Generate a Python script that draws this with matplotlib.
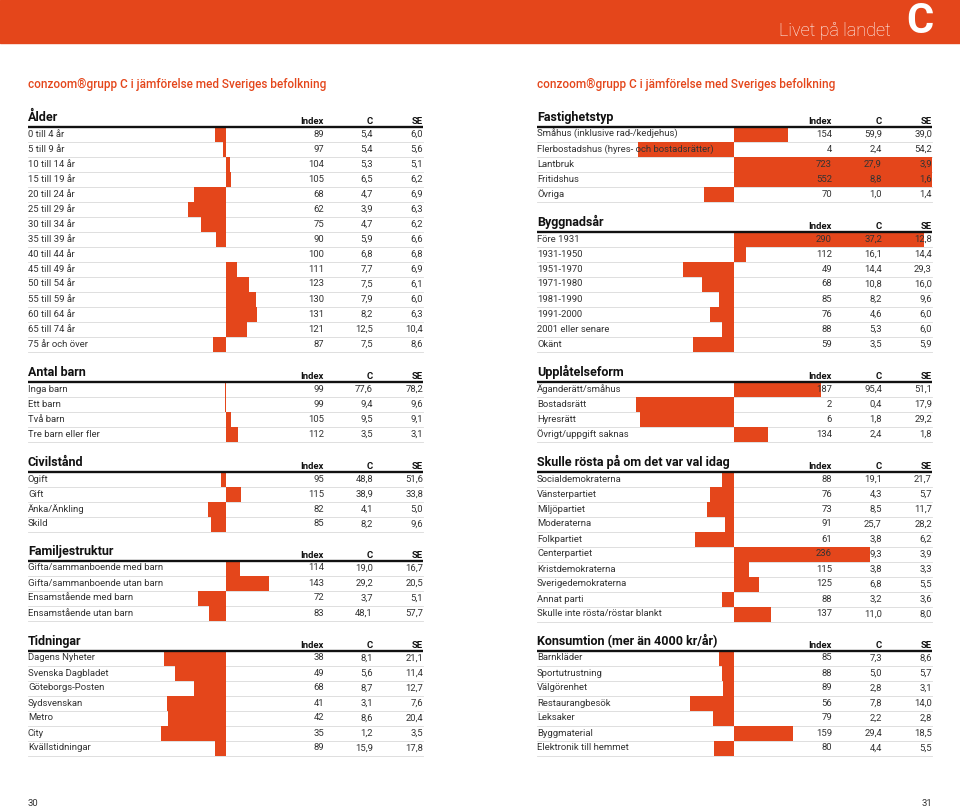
import numpy as np
import matplotlib
matplotlib.use("Agg")
import matplotlib.pyplot as plt

ORANGE = "#E4461B"
TEXT = "#333333"
GRID = "#d9d9d9"

# ---- data -------------------------------------------------------------
alder_labels = ["0 till 4 år", "5 till 9 år", "10 till 14 år", "15 till 19 år",
                "20 till 24 år", "25 till 29 år", "30 till 34 år", "35 till 39 år",
                "40 till 44 år", "45 till 49 år", "50 till 54 år", "55 till 59 år",
                "60 till 64 år", "65 till 74 år", "75 år och över"]
alder_index = [89, 97, 104, 105, 68, 62, 75, 90, 100, 111, 123, 130, 131, 121, 87]
alder_c = [5.4, 5.4, 5.3, 6.5, 4.7, 3.9, 4.7, 5.9, 6.8, 7.7, 7.5, 7.9, 8.2, 12.5, 7.5]
alder_se = [6.0, 5.6, 5.1, 6.2, 6.9, 6.3, 6.2, 6.6, 6.8, 6.9, 6.1, 6.0, 6.3, 10.4, 8.6]

barn_labels = ["Inga barn", "Ett barn", "Två barn", "Tre barn eller fler"]
barn_index = [99, 99, 105, 112]
barn_c = [77.6, 9.4, 9.5, 3.5]
barn_se = [78.2, 9.6, 9.1, 3.1]

civil_labels = ["Ogift", "Gift", "Änka/Änkling", "Skild"]
civil_index = [95, 115, 82, 85]
civil_c = [48.8, 38.9, 4.1, 8.2]
civil_se = [51.6, 33.8, 5.0, 9.6]

familj_labels = ["Gifta/sammanboende med barn", "Gifta/sammanboende utan barn",
                 "Ensamstående med barn", "Ensamstående utan barn"]
familj_index = [114, 143, 72, 83]
familj_c = [19.0, 29.2, 3.7, 48.1]
familj_se = [16.7, 20.5, 5.1, 57.7]

tidn_labels = ["Dagens Nyheter", "Svenska Dagbladet", "Göteborgs-Posten",
               "Sydsvenskan", "Metro", "City", "Kvällstidningar"]
tidn_index = [38, 49, 68, 41, 42, 35, 89]
tidn_c = [8.1, 5.6, 8.7, 3.1, 8.6, 1.2, 15.9]
tidn_se = [21.1, 11.4, 12.7, 7.6, 20.4, 3.5, 17.8]

fastighet_labels = ["Småhus (inklusive rad-/kedjehus)",
                    "Flerbostadshus (hyres- och bostadsrätter)",
                    "Lantbruk", "Fritidshus", "Övriga"]
fastighet_index = [154, 4, 723, 552, 70]
fastighet_c = [59.9, 2.4, 27.9, 8.8, 1.0]
fastighet_se = [39.0, 54.2, 3.9, 1.6, 1.4]

bygg_labels = ["Före 1931", "1931-1950", "1951-1970", "1971-1980", "1981-1990",
               "1991-2000", "2001 eller senare", "Okänt"]
bygg_index = [290, 112, 49, 68, 85, 76, 88, 59]
bygg_c = [37.2, 16.1, 14.4, 10.8, 8.2, 4.6, 5.3, 3.5]
bygg_se = [12.8, 14.4, 29.3, 16.0, 9.6, 6.0, 6.0, 5.9]

upplat_labels = ["Äganderätt/småhus", "Bostadsrätt", "Hyresrätt",
                 "Övrigt/uppgift saknas"]
upplat_index = [187, 2, 6, 134]
upplat_c = [95.4, 0.4, 1.8, 2.4]
upplat_se = [51.1, 17.9, 29.2, 1.8]

rosta_labels = ["Socialdemokraterna", "Vänsterpartiet", "Miljöpartiet",
                "Moderaterna", "Folkpartiet", "Centerpartiet", "Kristdemokraterna",
                "Sverigedemokraterna", "Annat parti",
                "Skulle inte rösta/röstar blankt"]
rosta_index = [88, 76, 73, 91, 61, 236, 115, 125, 88, 137]
rosta_c = [19.1, 4.3, 8.5, 25.7, 3.8, 9.3, 3.8, 6.8, 3.2, 11.0]
rosta_se = [21.7, 5.7, 11.7, 28.2, 6.2, 3.9, 3.3, 5.5, 3.6, 8.0]

kons_labels = ["Barnkläder", "Sportutrustning", "Välgörenhet", "Restaurangbesök",
               "Leksaker", "Byggmaterial", "Elektronik till hemmet"]
kons_index = [85, 88, 89, 56, 79, 159, 80]
kons_c = [7.3, 5.0, 2.8, 7.8, 2.2, 29.4, 4.4]
kons_se = [8.6, 5.7, 3.1, 14.0, 2.8, 18.5, 5.5]

# (title, labels, index, C, SE, panel, header y in px)
sections = [
    ("Ålder", alder_labels, alder_index, alder_c, alder_se, 0, 117),
    ("Antal barn", barn_labels, barn_index, barn_c, barn_se, 0, 372),
    ("Civilstånd", civil_labels, civil_index, civil_c, civil_se, 0, 462),
    ("Familjestruktur", familj_labels, familj_index, familj_c, familj_se, 0, 551),
    ("Tidningar", tidn_labels, tidn_index, tidn_c, tidn_se, 0, 641),
    ("Fastighetstyp", fastighet_labels, fastighet_index, fastighet_c, fastighet_se, 1, 117),
    ("Byggnadsår", bygg_labels, bygg_index, bygg_c, bygg_se, 1, 222),
    ("Upplåtelseform", upplat_labels, upplat_index, upplat_c, upplat_se, 1, 372),
    ("Skulle rösta på om det var val idag", rosta_labels, rosta_index, rosta_c, rosta_se, 1, 462),
    ("Konsumtion (mer än 4000 kr/år)", kons_labels, kons_index, kons_c, kons_se, 1, 641),
]

# panel layout: label x, bar baseline (index 100) x, Index / C / SE right edges
panels = [
    dict(x0=28, base=226, ix=324, cx=373, sx=423),
    dict(x0=537, base=734, ix=832, cx=882, sx=932),
]
ROW = 15
SUBTITLE = "conzoom\u00aegrupp C i jämförelse med Sveriges befolkning"

plt.rcParams['font.family'] = ['Roboto', 'DejaVu Sans']


def fmt(v):
    return f"{v:.1f}".replace(".", ",")


fig = plt.figure(figsize=(9.6, 8.09), dpi=100)
ax = fig.add_axes([0, 0, 1, 1])
ax.set_xlim(0, 960)
ax.set_ylim(809, 0)
ax.axis("off")

# header band
ax.add_patch(plt.Rectangle((0, 0), 960, 43, color=ORANGE, zorder=0))
ax.text(891, 31, "Livet på landet", color="white", fontsize=13,
        fontweight="light", ha="right", va="center")
ax.text(920, 21, "C", color="white", fontsize=30, fontweight="bold",
        ha="center", va="center")

for p in panels:
    ax.text(p["x0"], 84, SUBTITLE, color=ORANGE, fontsize=8.5,
            fontweight="medium", va="center")

for title, labels, idx, cvals, sevals, pi, hy in sections:
    p = panels[pi]
    x0, base, right = p["x0"], p["base"], p["sx"]
    # section header
    ax.text(x0, hy, title, fontsize=9, fontweight="bold", color="#111111",
            va="center", ha="left")
    for name, xx in (("Index", p["ix"]), ("C", p["cx"]), ("SE", p["sx"])):
        ax.text(xx, hy + 4, name, fontsize=6.8, fontweight="bold",
                color="#111111", ha="right", va="center")
    ax.plot([x0, right], [hy + 10, hy + 10], color="#111111", lw=1.7,
            solid_capstyle="butt", zorder=3)

    # bars: deviation from index 100, cut at the table edges
    ys = hy + 17 + ROW * np.arange(len(labels))
    diff = np.clip(np.array(idx) - 100, x0 - base, right - base)
    ax.barh(ys, diff, left=base, height=ROW, color=ORANGE, zorder=1,
            edgecolor="none")

    for y, lab, iv, cv, sv in zip(ys, labels, idx, cvals, sevals):
        ax.plot([x0, right], [y + ROW / 2, y + ROW / 2], color=GRID, lw=0.6,
                zorder=0.5)
        ax.text(x0, y, lab, fontsize=6.8, color=TEXT, va="center", zorder=4)
        ax.text(p["ix"], y, str(iv), fontsize=6.8, color=TEXT, ha="right",
                va="center", zorder=4)
        ax.text(p["cx"], y, fmt(cv), fontsize=6.8, color=TEXT, ha="right",
                va="center", zorder=4)
        ax.text(p["sx"], y, fmt(sv), fontsize=6.8, color=TEXT, ha="right",
                va="center", zorder=4)

# page numbers
ax.text(28, 804, "30", fontsize=6.8, color=TEXT, va="center")
ax.text(932, 804, "31", fontsize=6.8, color=TEXT, va="center", ha="right")

fig.savefig("out.png", dpi=100)
